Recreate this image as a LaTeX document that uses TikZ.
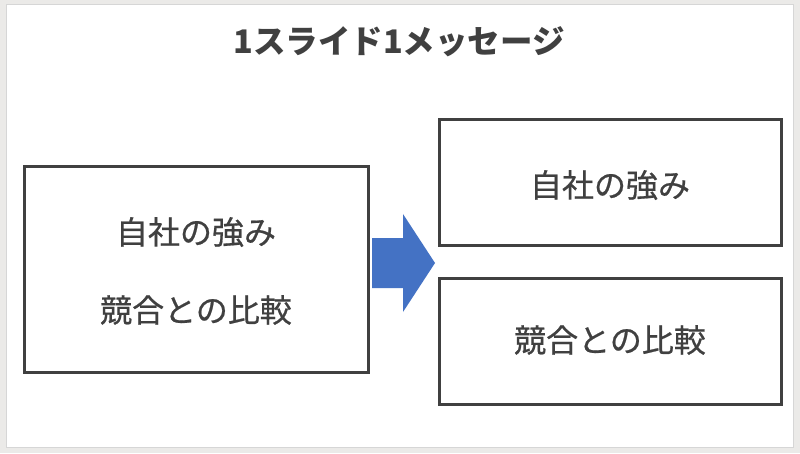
\documentclass[tikz,border=0pt]{standalone}
\usepackage{fontspec}
\newfontfamily\jp{Noto Sans CJK JP}
\newfontfamily\jpm{Noto Sans CJK JP}[FakeBold=0.6]
\definecolor{bggray}{HTML}{EBEAE8}
\definecolor{edgegray}{HTML}{D6D6D6}
\definecolor{ink}{HTML}{404040}
\definecolor{arrowblue}{HTML}{4472C4}
\tikzset{
  box/.style={draw=ink, line width=3pt, fill=white},
  label/.style={font=\jpm\fontsize{32}{36}\selectfont, text=ink, inner sep=0pt},
}
\begin{document}
\begin{tikzpicture}[x=1pt,y=1pt]
\fill[bggray] (0,0) rectangle (800,453);
\useasboundingbox (0,0) rectangle (800,453);
\fill[white] (6,6) rectangle (793,448);
\draw[edgegray, line width=1pt] (6,6) rectangle (793,448);
\node[font=\jp\bfseries\fontsize{32.5}{36}\selectfont, text=ink, inner sep=0pt] (title) at (399,411) {1スライド1メッセージ};
\draw[box] (24,81) rectangle (368,286);
\node[label] (l1) at (196,221) {自社の強み};
\node[label] (l2) at (196,143) {競合との比較};
\draw[box] (439,208) rectangle (781,333);
\node[label] (r1) at (610,268) {自社の強み};
\draw[box] (439,49) rectangle (781,175);
\node[label] (r2) at (610,113) {競合との比較};
\fill[arrowblue] (372,215) -- (403,215) -- (403,239) -- (435,190) -- (403,141) -- (403,165) -- (372,165) -- cycle;
\end{tikzpicture}
\end{document}
